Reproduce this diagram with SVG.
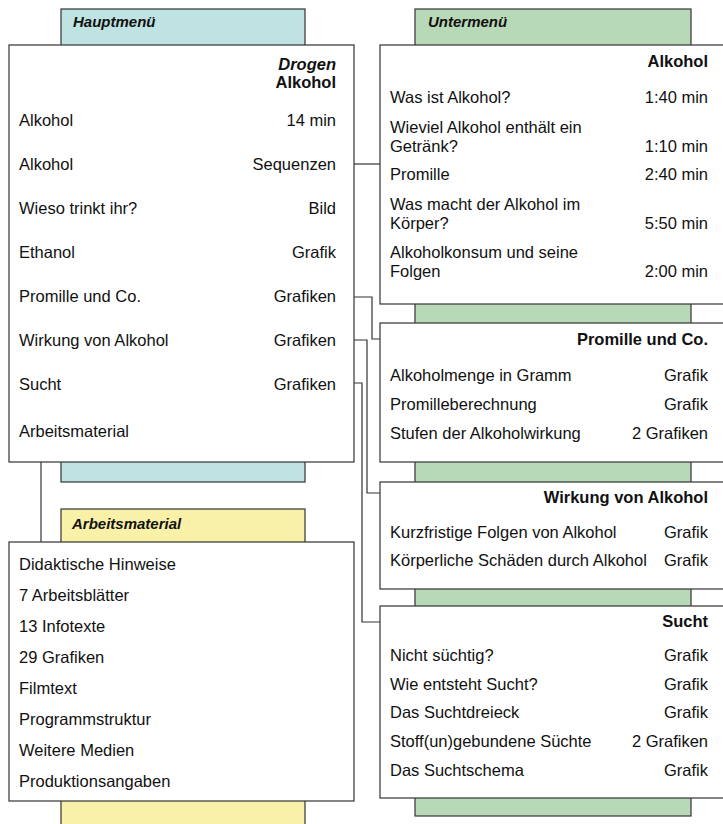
<svg xmlns="http://www.w3.org/2000/svg" width="723" height="824" viewBox="0 0 723 824">
<style>
.box{fill:#fff;stroke:#333;stroke-width:1.2}
.tab{stroke:#333;stroke-width:1.2}
.blue{fill:#bfe2e2}
.green{fill:#b8d9b7}
.yellow{fill:#f9f1a7}
text{font-family:"Liberation Sans",Arial,sans-serif;font-size:16.5px;fill:#111}
.r{text-anchor:end}
.b{font-weight:bold}
.bi{font-weight:bold;font-style:italic;font-size:15px}
.conn{fill:none;stroke:#333;stroke-width:1.2}
</style>
<g id="tabs">
<rect class="tab blue" x="61" y="9" width="244" height="473"/>
<rect class="tab green" x="415" y="9" width="276" height="807"/>
<rect class="tab yellow" x="61" y="509" width="244" height="330"/>
<text class="bi" x="73" y="27">Hauptmenü</text>
<text class="bi" x="428" y="27">Untermenü</text>
<text class="bi" x="72" y="529">Arbeitsmaterial</text>
</g>
<g id="connectors">
<path class="conn" d="M354,164H380"/>
<path class="conn" d="M354,297H372V339H380"/>
<path class="conn" d="M354,340H367V493H380"/>
<path class="conn" d="M354,383H362V622H380"/>
<path class="conn" d="M41,462V542"/>
</g>
<g id="hauptmenu">
<rect class="box" x="9" y="45" width="345" height="417"/>
<text class="r bi" x="336" y="70" style="font-size:16.5px">Drogen</text>
<text class="r b" x="336" y="88">Alkohol</text>
<text x="19" y="126">Alkohol</text><text class="r" x="336" y="126">14 min</text>
<text x="19" y="170">Alkohol</text><text class="r" x="336" y="170">Sequenzen</text>
<text x="19" y="214">Wieso trinkt ihr?</text><text class="r" x="336" y="214">Bild</text>
<text x="19" y="258">Ethanol</text><text class="r" x="336" y="258">Grafik</text>
<text x="19" y="302">Promille und Co.</text><text class="r" x="336" y="302">Grafiken</text>
<text x="19" y="346">Wirkung von Alkohol</text><text class="r" x="336" y="346">Grafiken</text>
<text x="19" y="390">Sucht</text><text class="r" x="336" y="390">Grafiken</text>
<text x="19" y="437">Arbeitsmaterial</text>
</g>
<g id="arbeitsmaterial">
<rect class="box" x="9" y="542" width="345" height="259"/>
<text x="19" y="570">Didaktische Hinweise</text>
<text x="19" y="601">7 Arbeitsblätter</text>
<text x="19" y="632">13 Infotexte</text>
<text x="19" y="663">29 Grafiken</text>
<text x="19" y="694">Filmtext</text>
<text x="19" y="725">Programmstruktur</text>
<text x="19" y="756">Weitere Medien</text>
<text x="19" y="787">Produktionsangaben</text>
</g>
<g id="alkohol">
<rect class="box" x="380" y="45" width="360" height="259"/>
<text class="r b" x="708" y="67">Alkohol</text>
<text x="390" y="103">Was ist Alkohol?</text><text class="r" x="708" y="103">1:40 min</text>
<text x="390" y="133">Wieviel Alkohol enthält ein</text>
<text x="390" y="152">Getränk?</text><text class="r" x="708" y="152">1:10 min</text>
<text x="390" y="180">Promille</text><text class="r" x="708" y="180">2:40 min</text>
<text x="390" y="210">Was macht der Alkohol im</text>
<text x="390" y="229">Körper?</text><text class="r" x="708" y="229">5:50 min</text>
<text x="390" y="258">Alkoholkonsum und seine</text>
<text x="390" y="277">Folgen</text><text class="r" x="708" y="277">2:00 min</text>
</g>
<g id="promille">
<rect class="box" x="380" y="323" width="360" height="139"/>
<text class="r b" x="708" y="345">Promille und Co.</text>
<text x="390" y="381">Alkoholmenge in Gramm</text><text class="r" x="708" y="381">Grafik</text>
<text x="390" y="410">Promilleberechnung</text><text class="r" x="708" y="410">Grafik</text>
<text x="390" y="439">Stufen der Alkoholwirkung</text><text class="r" x="708" y="439">2 Grafiken</text>
</g>
<g id="wirkung">
<rect class="box" x="380" y="482" width="360" height="107"/>
<text class="r b" x="708" y="503">Wirkung von Alkohol</text>
<text x="390" y="538">Kurzfristige Folgen von Alkohol</text><text class="r" x="708" y="538">Grafik</text>
<text x="390" y="566">Körperliche Schäden durch Alkohol</text><text class="r" x="708" y="566">Grafik</text>
</g>
<g id="sucht">
<rect class="box" x="380" y="606" width="360" height="192"/>
<text class="r b" x="708" y="627">Sucht</text>
<text x="390" y="661">Nicht süchtig?</text><text class="r" x="708" y="661">Grafik</text>
<text x="390" y="690">Wie entsteht Sucht?</text><text class="r" x="708" y="690">Grafik</text>
<text x="390" y="718">Das Suchtdreieck</text><text class="r" x="708" y="718">Grafik</text>
<text x="390" y="747">Stoff(un)gebundene Süchte</text><text class="r" x="708" y="747">2 Grafiken</text>
<text x="390" y="776">Das Suchtschema</text><text class="r" x="708" y="776">Grafik</text>
</g>
</svg>
